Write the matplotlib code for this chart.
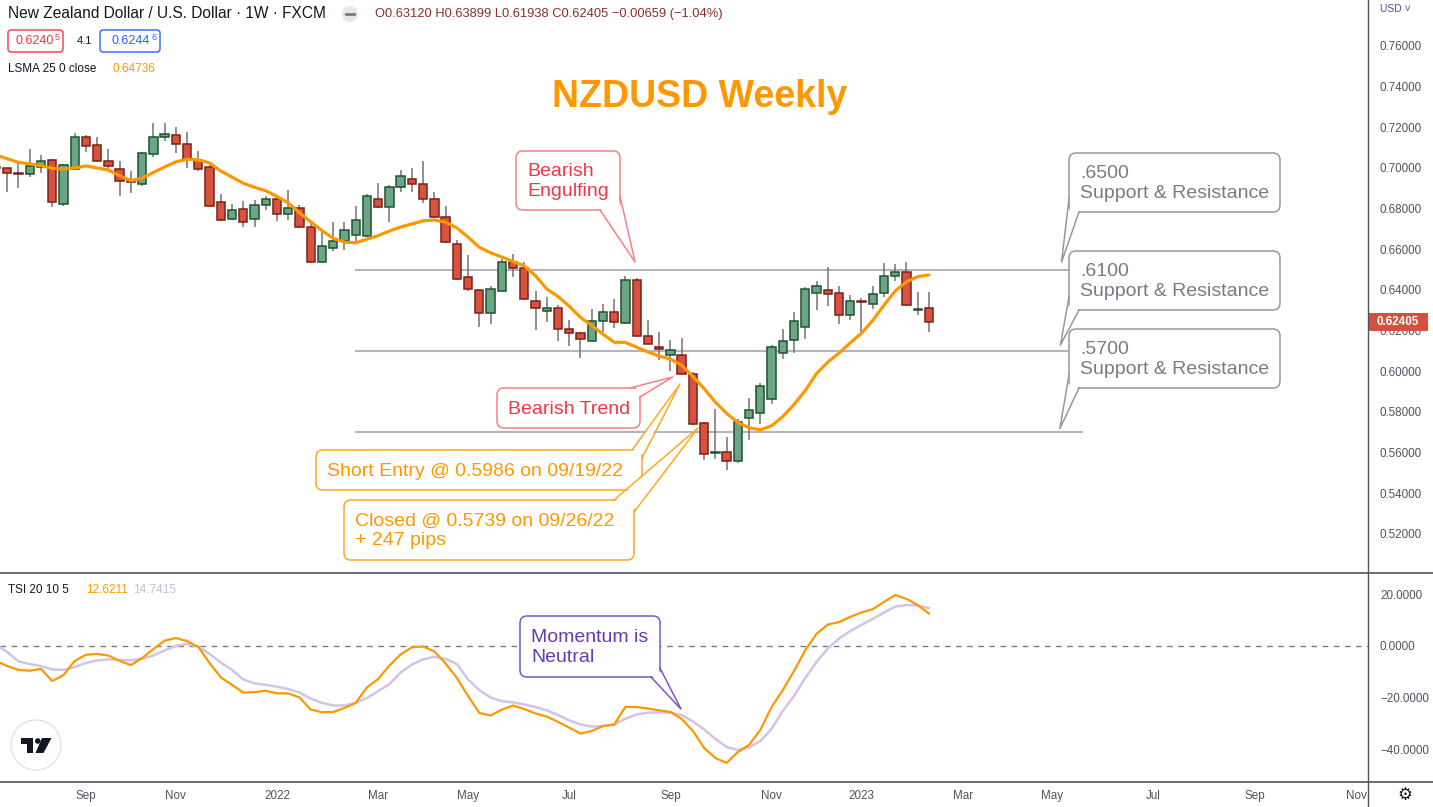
import numpy as np
import matplotlib.pyplot as plt
from matplotlib.patches import FancyBboxPatch, Polygon, Circle, Rectangle

plt.rcParams['font.family'] = ['Liberation Sans', 'DejaVu Sans']

W, H = 1433, 807

# weekly bars, week 0 = bar of 2022-01-03
weeks = np.arange(-25, 59)
opens = [0.7002, 0.6998, 0.6973, 0.6969, 0.7003, 0.7038, 0.6821, 0.6994, 0.7151, 0.7112,
         0.7033, 0.6994, 0.6935, 0.6920, 0.7067, 0.7151, 0.7161, 0.7116, 0.7038, 0.7003,
         0.6831, 0.6748, 0.6797, 0.6748, 0.6816, 0.6846, 0.6772, 0.6802, 0.6708, 0.6536,
         0.6605, 0.6639, 0.6669, 0.6664, 0.6846, 0.6807, 0.6905, 0.6944, 0.6920, 0.6846,
         0.6758, 0.6624, 0.6462, 0.6398, 0.6285, 0.6396, 0.6536, 0.6507, 0.6344, 0.6295,
         0.6310, 0.6206, 0.6187, 0.6148, 0.6246, 0.6290, 0.6236, 0.6448, 0.6172, 0.6121,
         0.6079, 0.6079, 0.5986, 0.5744, 0.5598, 0.5601, 0.5559, 0.5769, 0.5793, 0.5862,
         0.6088, 0.6152, 0.6216, 0.6384, 0.6398, 0.6384, 0.6275, 0.6345, 0.6330, 0.6384,
         0.6467, 0.6487, 0.6303, 0.6312]
highs = [0.7012, 0.7002, 0.7023, 0.7093, 0.7064, 0.7044, 0.7020, 0.7171, 0.7162, 0.7151,
         0.7092, 0.7033, 0.6985, 0.7077, 0.7220, 0.7220, 0.7202, 0.7177, 0.7082, 0.7013,
         0.6872, 0.6821, 0.6836, 0.6842, 0.6861, 0.6861, 0.6890, 0.6816, 0.6728, 0.6689,
         0.6733, 0.6736, 0.6813, 0.6871, 0.6925, 0.6915, 0.6989, 0.6998, 0.7033, 0.6880,
         0.6812, 0.6645, 0.6572, 0.6405, 0.6419, 0.6551, 0.6577, 0.6536, 0.6396, 0.6364,
         0.6326, 0.6252, 0.6193, 0.6306, 0.6331, 0.6354, 0.6469, 0.6457, 0.6252, 0.6193,
         0.6154, 0.6162, 0.5998, 0.5752, 0.5813, 0.5678, 0.5765, 0.5867, 0.5942, 0.6129,
         0.6208, 0.6292, 0.6413, 0.6444, 0.6513, 0.6418, 0.6374, 0.6359, 0.6418, 0.6531,
         0.6526, 0.6536, 0.6389, 0.63899]
lows = [0.6992, 0.6883, 0.6903, 0.6957, 0.6974, 0.6810, 0.6815, 0.6990, 0.7080, 0.7030,
        0.6990, 0.6864, 0.6878, 0.6913, 0.7055, 0.7134, 0.7075, 0.7001, 0.6984, 0.6808,
        0.6740, 0.6743, 0.6708, 0.6708, 0.6792, 0.6738, 0.6743, 0.6705, 0.6533, 0.6533,
        0.6593, 0.6595, 0.6630, 0.6660, 0.6802, 0.6733, 0.6880, 0.6880, 0.6826, 0.6755,
        0.6630, 0.6450, 0.6396, 0.6219, 0.6231, 0.6394, 0.6465, 0.6352, 0.6203, 0.6244,
        0.6150, 0.6124, 0.6064, 0.6146, 0.6193, 0.6211, 0.6234, 0.6170, 0.6132, 0.6055,
        0.6003, 0.5982, 0.5735, 0.5564, 0.5570, 0.5514, 0.5547, 0.5662, 0.5742, 0.5841,
        0.6060, 0.6091, 0.6160, 0.6301, 0.6323, 0.6234, 0.6254, 0.6195, 0.6308, 0.6364,
        0.6443, 0.6322, 0.6275, 0.61938]
closes = [0.7000, 0.6974, 0.6971, 0.7008, 0.7036, 0.6831, 0.7013, 0.7151, 0.7107, 0.7033,
          0.7008, 0.6934, 0.6932, 0.7072, 0.7151, 0.7166, 0.7116, 0.7043, 0.6994, 0.6812,
          0.6743, 0.6792, 0.6733, 0.6816, 0.6846, 0.6772, 0.6802, 0.6708, 0.6536, 0.6615,
          0.6639, 0.6693, 0.6743, 0.6861, 0.6807, 0.6905, 0.6959, 0.6920, 0.6846, 0.6758,
          0.6634, 0.6452, 0.6403, 0.6285, 0.6403, 0.6536, 0.6507, 0.6354, 0.6310, 0.6310,
          0.6206, 0.6187, 0.6157, 0.6246, 0.6290, 0.6241, 0.6448, 0.6172, 0.6134, 0.6108,
          0.6103, 0.5988, 0.5739, 0.5593, 0.5601, 0.5559, 0.5752, 0.5811, 0.5926, 0.6118,
          0.6148, 0.6246, 0.6403, 0.6418, 0.6379, 0.6275, 0.6344, 0.6341, 0.6379, 0.6467,
          0.6487, 0.6325, 0.6306, 0.62405]
lsma = [0.7065, 0.7045, 0.7028, 0.7020, 0.7012, 0.6998, 0.6995, 0.7000, 0.7010, 0.7000,
        0.6990, 0.6962, 0.6938, 0.6950, 0.6978, 0.7005, 0.7030, 0.7043, 0.7040, 0.7025,
        0.6985, 0.6955, 0.6925, 0.6905, 0.6888, 0.6860, 0.6828, 0.6780, 0.6735, 0.6692,
        0.6654, 0.6635, 0.6632, 0.6650, 0.6667, 0.6690, 0.6710, 0.6725, 0.6740, 0.6744,
        0.6733, 0.6705, 0.6660, 0.6610, 0.6583, 0.6562, 0.6540, 0.6518, 0.6470, 0.6405,
        0.6368, 0.6320, 0.6265, 0.6225, 0.6182, 0.6143, 0.6142, 0.6118, 0.6095, 0.6075,
        0.6060, 0.6030, 0.5975, 0.5915, 0.5848, 0.5793, 0.5748, 0.5722, 0.5712, 0.5732,
        0.5777, 0.5837, 0.5905, 0.5989, 0.6045, 0.6090, 0.6140, 0.6187, 0.6250, 0.6325,
        0.6395, 0.6440, 0.6466, 0.64736]
tsi = [-5.8, -7.8, -9.3, -9.6, -8.9, -13.6, -11.3, -5.8, -3.4, -3.1,
       -3.7, -5.8, -7.4, -4.7, -1.2, 2.1, 3.1, 1.9, -0.4, -6.6,
       -12.2, -15.1, -18.1, -17.9, -17.4, -18.4, -18.4, -20.0, -24.7, -25.7,
       -25.6, -24.1, -22.1, -16.1, -12.8, -7.6, -3.3, -0.5, -0.2, -2.1,
       -6.8, -12.4, -19.4, -26.0, -27.0, -24.7, -23.1, -24.5, -26.2, -27.4,
       -29.5, -31.7, -34.0, -33.0, -31.1, -30.5, -23.6, -23.7, -24.3, -25.0,
       -25.6, -28.3, -33.0, -39.6, -43.5, -45.4, -41.2, -38.4, -32.6, -23.7,
       -17.1, -9.7, -1.6, 4.7, 8.3, 9.3, 11.3, 13.0, 14.3, 17.1,
       19.8, 18.3, 15.9, 12.6211]
tsi_signal = [0.5, -2.3, -6.0, -7.0, -7.8, -9.1, -9.3, -8.2, -6.6, -5.6,
              -5.2, -5.4, -5.6, -4.9, -3.7, -1.7, 0.0, 0.8, -0.2, -3.1,
              -6.4, -9.3, -13.0, -14.5, -15.1, -15.8, -16.7, -18.1, -20.4, -22.1,
              -23.1, -23.1, -22.1, -20.2, -17.5, -14.8, -10.3, -7.2, -5.2, -4.2,
              -5.0, -7.0, -13.0, -17.1, -20.0, -21.4, -21.9, -22.7, -23.7, -25.0,
              -26.8, -28.9, -30.5, -31.3, -31.1, -30.5, -28.2, -26.6, -25.9, -25.8,
              -25.9, -26.8, -29.3, -32.4, -36.1, -39.2, -40.4, -39.4, -36.9, -32.2,
              -25.2, -19.4, -12.4, -6.2, -1.0, 2.9, 5.8, 8.2, 10.5, 13.0,
              15.3, 15.9, 15.7, 14.7415]

sr_levels = [0.65, 0.61, 0.57]
sr_span = (6.94, 71.7)

tick_weeks = [-17, -9, 0, 9, 17, 26, 35, 44, 52, 61, 69, 78, 87, 96]
tick_labels = ['Sep', 'Nov', '2022', 'Mar', 'May', 'Jul', 'Sep', 'Nov', '2023',
               'Mar', 'May', 'Jul', 'Sep', 'Nov']
price_ticks = np.arange(0.52, 0.7601, 0.02)
tsi_ticks = [20, 0, -20, -40]

ORANGE = '#ff9800'
LAV = '#d1c4e9'
AXC = '#50535e'

fig = plt.figure(figsize=(W / 100, H / 100), dpi=100)
fig.patch.set_facecolor('white')

ax = fig.add_axes([0, 1 - 573 / H, 1368 / W, 573 / H])
ax2 = fig.add_axes([0, 1 - 782 / H, 1368 / W, (782 - 573) / H], sharex=ax)

# candles
o = np.array(opens)
c = np.array(closes)
up = c >= o
bh = np.maximum(np.abs(c - o), 0.0006)
bb = (o + c) / 2 - bh / 2
ax.vlines(weeks, lows, highs, color='#737375', lw=1.1, zorder=2)
ax.bar(weeks[up], bh[up], bottom=bb[up], width=0.74, color='#6ba583',
       edgecolor='#1e5233', lw=1.1, zorder=3)
ax.bar(weeks[~up], bh[~up], bottom=bb[~up], width=0.74, color='#d65342',
       edgecolor='#7b2016', lw=1.1, zorder=3)
ax.plot(weeks, lsma, color=ORANGE, lw=2.3, zorder=4, solid_capstyle='round')
ax.hlines(sr_levels, *sr_span, color='#b2b5be', lw=1.5, zorder=1)

ax.set_xlim(-277 / 11.24, (1368 - 277) / 11.24)
ax.set_ylim(0.76 - 527 / 2033, 0.76 + 46 / 2033)
ax.yaxis.tick_right()
ax.set_yticks(price_ticks)
ax.set_yticklabels([f'{v:.5f}' for v in price_ticks])
ax.tick_params(axis='y', length=0, pad=8.6, labelsize=8.4, labelcolor=AXC)
ax.tick_params(axis='x', length=0, labelbottom=False)
for s in ax.spines.values():
    s.set_visible(False)

# TSI panel
ax2.axhline(0, color='#787b86', lw=1, ls=(0, (4, 4)), zorder=1)
ax2.plot(weeks, tsi_signal, color=LAV, lw=1.8, zorder=2)
ax2.plot(weeks, tsi, color=ORANGE, lw=1.6, zorder=3)
ax2.set_ylim((646 - 782) / 2.575, (646 - 573) / 2.575)
ax2.yaxis.tick_right()
ax2.set_yticks(tsi_ticks)
ax2.set_yticklabels([f'{v:.4f}'.replace('-', '\u2212') for v in tsi_ticks])
ax2.tick_params(axis='y', length=0, pad=8.6, labelsize=8.4, labelcolor=AXC)
ax2.set_xticks(tick_weeks)
ax2.set_xticklabels(tick_labels)
ax2.tick_params(axis='x', length=0, pad=6, labelsize=8.4, labelcolor=AXC)
for s in ax2.spines.values():
    s.set_visible(False)

# pixel overlay
ov = fig.add_axes([0, 0, 1, 1], zorder=10)
ov.set_xlim(0, W)
ov.set_ylim(H, 0)
ov.axis('off')
ov.patch.set_alpha(0)


def px(a, x, y):
    X, Y = a.transData.transform((x, y))
    return X, H - Y


ov.plot([1368, 1368], [0, H], color=AXC, lw=1)
ov.plot([0, W], [573, 573], color=AXC, lw=1.2)
ov.plot([0, W], [782, 782], color=AXC, lw=1.2)

# header
ov.text(8, 14, 'New Zealand Dollar / U.S. Dollar \u00b7 1W \u00b7 FXCM', fontsize=11.2,
        color='#131722', va='center')
ov.add_patch(Circle((350, 14), 8, fc='#e6e7ea', ec='none'))
ov.plot([346, 354], [14, 14], color='#787b86', lw=2)
ov.text(375, 14, 'O0.63120 H0.63899 L0.61938 C0.62405 \u22120.00659 (\u22121.04%)',
        fontsize=9.3, color='#8a2f28', va='center')
ov.add_patch(FancyBboxPatch((8, 30), 55, 22, boxstyle='round,pad=0,rounding_size=3',
                            fc='white', ec='#f23645', lw=1))
ov.text(54, 41, '0.6240', fontsize=9, color='#f23645', va='center', ha='right')
ov.text(60, 37, '5', fontsize=6.5, color='#f23645', va='center', ha='right')
ov.text(84, 41, '4.1', fontsize=8, color='#131722', va='center', ha='center')
ov.add_patch(FancyBboxPatch((100, 30), 60, 22, boxstyle='round,pad=0,rounding_size=3',
                            fc='white', ec='#2962ff', lw=1))
ov.text(150, 41, '0.6244', fontsize=9, color='#2962ff', va='center', ha='right')
ov.text(157, 37, '6', fontsize=6.5, color='#2962ff', va='center', ha='right')
ov.text(8, 69, 'LSMA 25 0 close', fontsize=8.5, color='#131722', va='center')
ov.text(113, 69, '0.64736', fontsize=8.5, color=ORANGE, va='center')
ov.text(8, 590, 'TSI 20 10 5', fontsize=8.5, color='#131722', va='center')
ov.text(86, 590, '12.6211', fontsize=8.5, color=ORANGE, va='center')
ov.text(133, 590, '14.7415', fontsize=8.5, color='#c5bedb', va='center')
ov.text(1380, 9, 'USD \u02c5', fontsize=7.5, color='#4d5199', va='center')
ov.text(1405, 795, '\u2699', fontsize=12, family='DejaVu Sans', color='#131722',
        ha='center', va='center')

ov.text(700, 97, 'NZDUSD Weekly', fontsize=27, fontweight='bold', color=ORANGE,
        ha='center', va='center')

# last price tag
_, ly = px(ax, 0, closes[-1])
ov.add_patch(Rectangle((1369, ly - 9), 59, 18, fc='#d6503f', ec='none'))
ov.text(1398, ly, f'{closes[-1]:.5f}', fontsize=8.4, fontweight='bold', color='white',
        ha='center', va='center')

# logo
ov.add_patch(Circle((36, 745), 25, fc='white', ec='#e0e3eb', lw=1))
ov.add_patch(Rectangle((21.5, 738), 12, 5.5, fc='#131722', ec='none'))
ov.add_patch(Rectangle((27, 743), 6.5, 10, fc='#131722', ec='none'))
ov.add_patch(Circle((37.8, 741), 2.8, fc='#131722', ec='none'))
ov.add_patch(Polygon([(42, 738), (51.5, 738), (43.5, 753), (35.5, 753)], fc='#131722', ec='none'))


def callout(box, base, tip, text, tc, ec, fs=14):
    x0, y0, x1, y1 = box
    ov.add_patch(FancyBboxPatch((x0, y0), x1 - x0, y1 - y0,
                                boxstyle='round,pad=0,rounding_size=7',
                                fc='white', ec=ec, lw=1.1, zorder=3))
    cx, cy = (x0 + x1) / 2, (y0 + y1) / 2
    inner = []
    for bx, by in base:
        dx = 2.5 if bx < cx else -2.5
        dy = 2.5 if by < cy else -2.5
        inner.append((bx + dx if bx in (x0, x1) else bx, by + dy if by in (y0, y1) else by))
    ov.add_patch(Polygon([inner[0], tip, inner[1]], closed=True, fc='white', ec='none',
                         zorder=4))
    ov.plot([base[0][0], tip[0], base[1][0]], [base[0][1], tip[1], base[1][1]],
            color=ec, lw=1.1, zorder=5)
    ov.text(x0 + 11, cy + 1, text, color=tc, fontsize=fs, va='center', ha='left',
            linespacing=1.2, zorder=6)


RED_T, RED_E = '#f23645', '#f5818a'
GRY_T, GRY_E = '#787b86', '#9598a1'
ORG_E = '#ffa726'
PUR_T, PUR_E = '#673ab7', '#7e57c2'

callout((516, 151, 620, 210), [(600, 210), (620, 196)], px(ax, 31.85, 0.6538),
        'Bearish\nEngulfing', RED_T, RED_E)
callout((1069, 153, 1280, 212), [(1069, 199), (1079, 212)], px(ax, 69.8, 0.6538),
        '.6500\nSupport & Resistance', GRY_T, GRY_E)
callout((1069, 251, 1280, 310), [(1069, 297), (1079, 310)], px(ax, 69.7, 0.6129),
        '.6100\nSupport & Resistance', GRY_T, GRY_E)
callout((1069, 329, 1280, 388), [(1069, 375), (1079, 388)], px(ax, 69.65, 0.5718),
        '.5700\nSupport & Resistance', GRY_T, GRY_E)
callout((497, 388, 640, 428), [(630, 388), (640, 397)], px(ax, 35.2, 0.5972),
        'Bearish Trend', RED_T, RED_E)
callout((316, 450, 642, 490), [(632, 450), (642, 458)], px(ax, 35.85, 0.5937),
        'Short Entry @ 0.5986 on 09/19/22', ORANGE, ORG_E)
callout((344, 500, 634, 560), [(614, 500), (634, 512)], px(ax, 37.46, 0.5721),
        'Closed @ 0.5739 on 09/26/22\n+ 247 pips', ORANGE, ORG_E)
callout((520, 616, 660, 677), [(651, 677), (660, 668)], px(ax2, 35.94, -24.5),
        'Momentum is\nNeutral', PUR_T, PUR_E)

fig.savefig('out.png', dpi=100)
